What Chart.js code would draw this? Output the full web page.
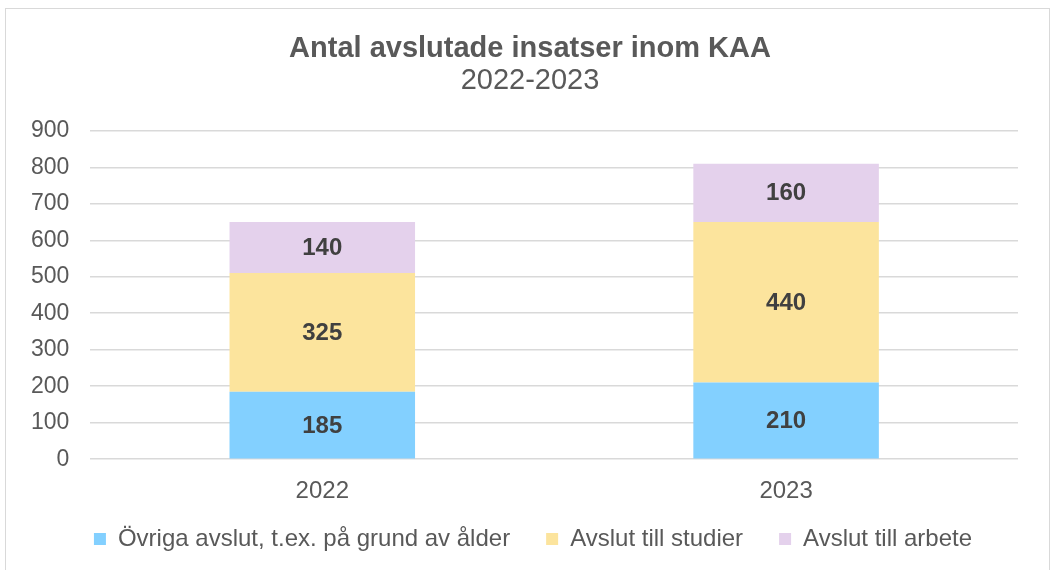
<!DOCTYPE html>
<html>
<head>
<meta charset="utf-8">
<script src="https://cdn.jsdelivr.net/npm/chart.js@4/dist/chart.umd.min.js"></script>
<style>
  html, body { margin: 0; padding: 0; background: #fff; overflow: hidden; }
  #wrap {
    position: absolute; left: 5px; top: 8px;
    width: 1045px; height: 570px;
    border: 1px solid #d9d9d9; box-sizing: border-box;
  }
  canvas { display: block; }
</style>
</head>
<body>
<div id="wrap"><canvas id="chart"></canvas></div>
<script>
const years = ["2022", "2023"];
const ovriga = [185, 210];
const studier = [325, 440];
const arbete = [140, 160];
const seriesNames = ["Övriga avslut, t.ex. på grund av ålder", "Avslut till studier", "Avslut till arbete"];
const yTicks = [0, 100, 200, 300, 400, 500, 600, 700, 800, 900];

const TXT = "#595959";
const FONT = "'Liberation Sans', Arial, sans-serif";
const LEGEND_TRIM = 25;   // legend box is taller than needed, give that room to the plot
const LEGEND_SHIFT_X = 19;
const TITLE_SHIFT_X = 16; // titles sit centred on the whole frame, not the padded area

// draws the value inside each bar segment
const barLabels = {
  id: "barLabels",
  afterDatasetsDraw(chart) {
    const ctx = chart.ctx;
    ctx.save();
    ctx.font = "bold 24px " + FONT;
    ctx.fillStyle = "#404040";
    ctx.textAlign = "center";
    ctx.textBaseline = "middle";
    chart.data.datasets.forEach((ds, i) => {
      chart.getDatasetMeta(i).data.forEach((bar, j) => {
        const mid = (bar.y + bar.base) / 2;
        ctx.fillText(ds.data[j], bar.x, mid + 1);
      });
    });
    ctx.restore();
  }
};

// tighter legend: shrink its box, then move it back up; nudge title boxes
const layoutTweak = {
  id: "layoutTweak",
  afterInit(chart) {
    const lg = chart.legend;
    const fit = lg.fit.bind(lg);
    lg.fit = function () {
      fit();
      this.height -= LEGEND_TRIM;
    };
  },
  afterLayout(chart) {
    const lg = chart.legend;
    lg.top -= LEGEND_TRIM;
    lg.left += LEGEND_SHIFT_X;
    lg.right += LEGEND_SHIFT_X;
    chart.boxes.forEach(b => {
      if (b !== lg && b.position === "top") {
        b.left += TITLE_SHIFT_X;
        b.right += TITLE_SHIFT_X;
      }
    });
  }
};

new Chart(document.getElementById("chart"), {
  type: "bar",
  data: {
    labels: years,
    datasets: [
      { label: seriesNames[0], data: ovriga, backgroundColor: "#83d0ff" },
      { label: seriesNames[1], data: studier, backgroundColor: "#fce49d" },
      { label: seriesNames[2], data: arbete, backgroundColor: "#e4d1ec" }
    ]
  },
  options: {
    responsive: true,
    maintainAspectRatio: false,
    animation: false,
    layout: { padding: { left: 4, right: 31, top: 0, bottom: 16 } },
    datasets: { bar: { barPercentage: 0.4, categoryPercentage: 1 } },
    scales: {
      x: {
        stacked: true,
        grid: { display: false },
        border: { display: false },
        ticks: { color: TXT, font: { family: FONT, size: 24 }, padding: 10 }
      },
      y: {
        stacked: true,
        min: 0, max: 900,
        afterBuildTicks: (axis) => { axis.ticks = yTicks.map(v => ({ value: v })); },
        grid: { color: "#d9d9d9", lineWidth: 1.5, drawTicks: false },
        border: { display: false },
        ticks: { color: TXT, font: { family: FONT, size: 23 }, padding: 21 }
      }
    },
    plugins: {
      title: {
        display: true,
        text: "Antal avslutade insatser inom KAA",
        color: TXT,
        font: { family: FONT, size: 29, weight: "bold", lineHeight: 1.1 },
        padding: { top: 24, bottom: 0 }
      },
      subtitle: {
        display: true,
        text: "2022-2023",
        color: TXT,
        font: { family: FONT, size: 29, weight: "normal", lineHeight: 1.1 },
        padding: { bottom: 34 }
      },
      legend: {
        position: "bottom",
        labels: {
          color: TXT,
          font: { family: FONT, size: 24 },
          boxWidth: 12, boxHeight: 12,
          padding: 36
        }
      },
      tooltip: { enabled: false }
    }
  },
  plugins: [barLabels, layoutTweak]
});
</script>
</body>
</html>
